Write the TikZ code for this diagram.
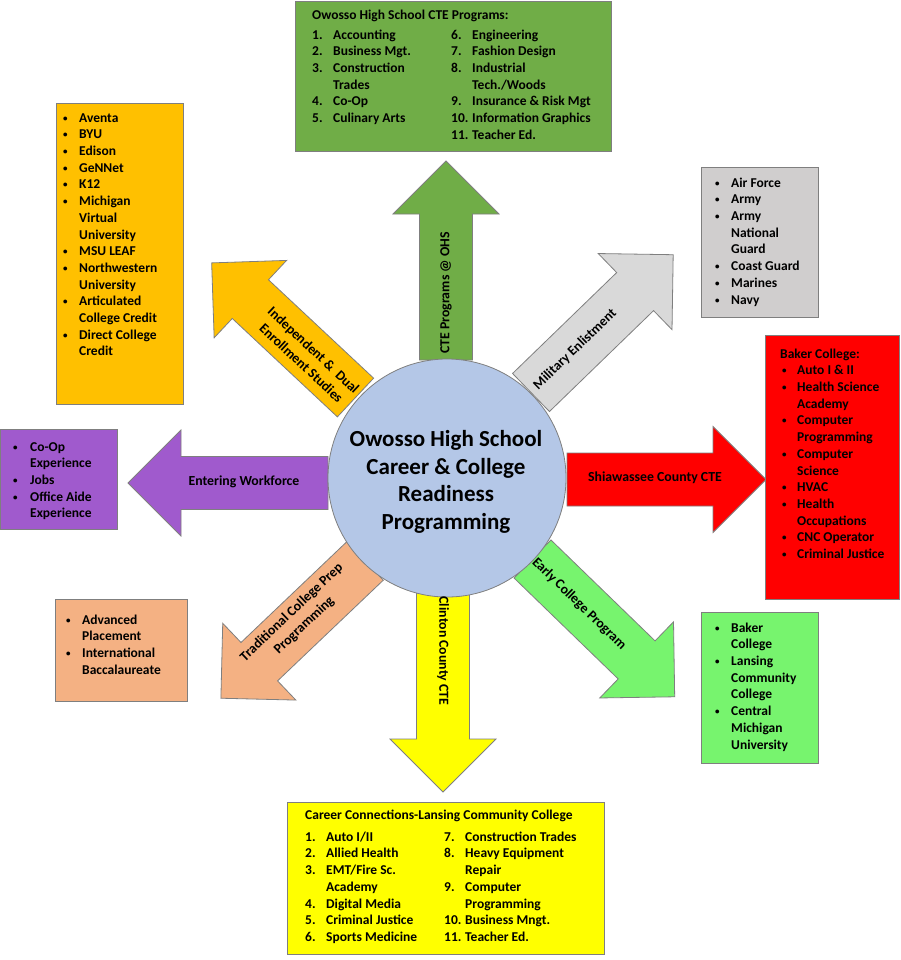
\documentclass[tikz,border=0pt]{standalone}
\usepackage{fontspec}
\setmainfont{Carlito}
\definecolor{edge}{HTML}{7F7F7F}
\definecolor{cteGreen}{HTML}{70AD47}
\definecolor{indOrange}{HTML}{FFC000}
\definecolor{milGrayA}{HTML}{D9D9D9}
\definecolor{milGrayB}{HTML}{D0CECE}
\definecolor{shiRed}{HTML}{FF0000}
\definecolor{workPurple}{HTML}{A05ACD}
\definecolor{tradPeach}{HTML}{F4B183}
\definecolor{earlyGreen}{HTML}{77F46E}
\definecolor{clinYellow}{HTML}{FFFF00}
\definecolor{hubBlue}{HTML}{B4C7E7}
\tikzset{
  every node/.style={font=\bfseries\fontsize{13.5}{16.7}\selectfont, inner sep=0pt, text=black},
  boxshape/.style={draw=edge, line width=0.8pt, inner sep=0pt, anchor=north west},
  listtext/.style={anchor=north west, align=left},
  arrowlabel/.style={font=\bfseries\fontsize{13.8}{18}\selectfont, align=center},
  blockarrow/.style={draw=edge, line width=0.8pt},
}
\newcommand\bigarrow[5]{%
  \begin{scope}[shift={(#2,#3)}, rotate=#4]
    \draw[blockarrow, fill=#1] (0,-26.5) -- ({#5-53},-26.5) -- ({#5-53},-53) -- (#5,0)
      -- ({#5-53},53) -- ({#5-53},26.5) -- (0,26.5) -- cycle;
  \end{scope}}
\newcommand\bl[1]{\makebox[#1][l]{\raisebox{1pt}{\fontsize{9}{9}\selectfont\textbullet}}}
\newcommand\nm[2]{\makebox[#1][l]{#2}}
\begin{document}
\begin{tikzpicture}[x=1pt,y=-1pt]
\fill[white] (0,0) rectangle (900,960);
\useasboundingbox (0,0) rectangle (900,960);

% ---- block arrows ----
\bigarrow{cteGreen}{446}{360}{90}{199}
\bigarrow{indOrange}{355.5}{397.5}{136.9}{197}
\bigarrow{milGrayA}{531}{392.5}{44.1}{198}
\bigarrow{shiRed}{567}{479.5}{0}{199}
\bigarrow{workPurple}{328}{483}{180}{200}
\bigarrow{tradPeach}{365}{561}{223.6}{199}
\bigarrow{clinYellow}{443}{593}{270}{199}
\bigarrow{earlyGreen}{532.5}{559}{-44.1}{198}

% ---- hub ----
\node[circle, draw=edge, fill=hubBlue, minimum size=238pt, line width=0.8pt] (hub) at (447,478) {};
\node[font=\bfseries\fontsize{23}{27.7}\selectfont, align=center] (hubText) at (446,482)
  {Owosso High School\\Career \& College\\Readiness\\Programming};

% ---- arrow labels ----
\node[arrowlabel, rotate=90] (lblCTE) at (446,293) {CTE Programs @ OHS};
\node[arrowlabel, rotate=-43.1] (lblInd) at (307.5,356.5) {Independent \&\ \ Dual\\Enrollment Studies};
\node[arrowlabel, rotate=44.1] (lblMil) at (575,349.5) {Military Enlistment};
\node[arrowlabel] (lblShi) at (655,478) {Shiawassee County CTE};
\node[arrowlabel] (lblWork) at (244,482) {Entering Workforce};
\node[arrowlabel, rotate=43.6] (lblTrad) at (298,619) {Traditional College Prep\\Programming};
\node[arrowlabel, rotate=-90] (lblClin) at (443,651) {Clinton County CTE};
\node[arrowlabel, rotate=-44.1] (lblEarly) at (579,604) {Early College Program};

% ---- boxes ----
\node[boxshape, fill=cteGreen, minimum width=316pt, minimum height=150pt] (cteBox) at (295,1) {};
\node[boxshape, fill=indOrange, minimum width=127pt, minimum height=301pt] (indBox) at (56,103) {};
\node[boxshape, fill=milGrayB, minimum width=117pt, minimum height=150pt] (milBox) at (701,167) {};
\node[boxshape, fill=shiRed, minimum width=134pt, minimum height=264pt] (shiBox) at (765,335) {};
\node[boxshape, fill=workPurple, minimum width=117pt, minimum height=100pt] (workBox) at (0,429) {};
\node[boxshape, fill=tradPeach, minimum width=132pt, minimum height=102pt] (tradBox) at (55,599) {};
\node[boxshape, fill=earlyGreen, minimum width=117pt, minimum height=151pt] (earlyBox) at (701,612) {};
\node[boxshape, fill=clinYellow, minimum width=317pt, minimum height=152pt] (clinBox) at (287,802) {};

% ---- box texts ----
\node[listtext] (cteTitle) at (312,7.3) {\strut Owosso High School CTE Programs:};
\node[listtext] (cteCol1) at (312,27.3) {\strut\nm{21pt}{1.}Accounting\\
  \nm{21pt}{2.}Business Mgt.\\
  \nm{21pt}{3.}Construction\\
  \hspace*{21pt}Trades\\
  \nm{21pt}{4.}Co-Op\\
  \nm{21pt}{5.}Culinary Arts};
\node[listtext] (cteCol2) at (451,27.3) {\strut\nm{21pt}{6.}Engineering\\
  \nm{21pt}{7.}Fashion Design\\
  \nm{21pt}{8.}Industrial\\
  \hspace*{21pt}Tech./Woods\\
  \nm{21pt}{9.}Insurance \& Risk Mgt\\
  \nm{21pt}{10.}Information Graphics\\
  \nm{21pt}{11.}Teacher Ed.};

\node[listtext] (indText) at (63,110.3) {\strut\bl{16pt}Aventa\\
  \bl{16pt}BYU\\
  \bl{16pt}Edison\\
  \bl{16pt}GeNNet\\
  \bl{16pt}K12\\
  \bl{16pt}Michigan\\
  \hspace*{16pt}Virtual\\
  \hspace*{16pt}University\\
  \bl{16pt}MSU LEAF\\
  \bl{16pt}Northwestern\\
  \hspace*{16pt}University\\
  \bl{16pt}Articulated\\
  \hspace*{16pt}College Credit\\
  \bl{16pt}Direct College\\
  \hspace*{16pt}Credit};

\node[listtext] (milText) at (715,175.3) {\strut\bl{16pt}Air Force\\
  \bl{16pt}Army\\
  \bl{16pt}Army\\
  \hspace*{16pt}National\\
  \hspace*{16pt}Guard\\
  \bl{16pt}Coast Guard\\
  \bl{16pt}Marines\\
  \bl{16pt}Navy};

\node[listtext] (shiText) at (780,346.3) {\strut Baker College:\\
  \hspace*{2pt}\bl{15pt}Auto I \& II\\
  \hspace*{2pt}\bl{15pt}Health Science\\
  \hspace*{17pt}Academy\\
  \hspace*{2pt}\bl{15pt}Computer\\
  \hspace*{17pt}Programming\\
  \hspace*{2pt}\bl{15pt}Computer\\
  \hspace*{17pt}Science\\
  \hspace*{2pt}\bl{15pt}HVAC\\
  \hspace*{2pt}\bl{15pt}Health\\
  \hspace*{17pt}Occupations\\
  \hspace*{2pt}\bl{15pt}CNC Operator\\
  \hspace*{2pt}\bl{15pt}Criminal Justice};

\node[listtext] (workText) at (13,439.3) {\strut\bl{17pt}Co-Op\\
  \hspace*{17pt}Experience\\
  \bl{17pt}Jobs\\
  \bl{17pt}Office Aide\\
  \hspace*{17pt}Experience};

\node[listtext] (tradText) at (66,612.3) {\strut\bl{16pt}Advanced\\
  \hspace*{16pt}Placement\\
  \bl{16pt}International\\
  \hspace*{16pt}Baccalaureate};

\node[listtext] (earlyText) at (715,620.3) {\strut\bl{16pt}Baker\\
  \hspace*{16pt}College\\
  \bl{16pt}Lansing\\
  \hspace*{16pt}Community\\
  \hspace*{16pt}College\\
  \bl{16pt}Central\\
  \hspace*{16pt}Michigan\\
  \hspace*{16pt}University};

\node[listtext] (clinTitle) at (305,807.3) {\strut Career Connections-Lansing Community College};
\node[listtext] (clinCol1) at (305,829.3) {\strut\nm{21pt}{1.}Auto I/II\\
  \nm{21pt}{2.}Allied Health\\
  \nm{21pt}{3.}EMT/Fire Sc.\\
  \hspace*{21pt}Academy\\
  \nm{21pt}{4.}Digital Media\\
  \nm{21pt}{5.}Criminal Justice\\
  \nm{21pt}{6.}Sports Medicine};
\node[listtext] (clinCol2) at (444,829.3) {\strut\nm{21pt}{7.}Construction Trades\\
  \nm{21pt}{8.}Heavy Equipment\\
  \hspace*{21pt}Repair\\
  \nm{21pt}{9.}Computer\\
  \hspace*{21pt}Programming\\
  \nm{21pt}{10.}Business Mngt.\\
  \nm{21pt}{11.}Teacher Ed.};
\end{tikzpicture}
\end{document}
